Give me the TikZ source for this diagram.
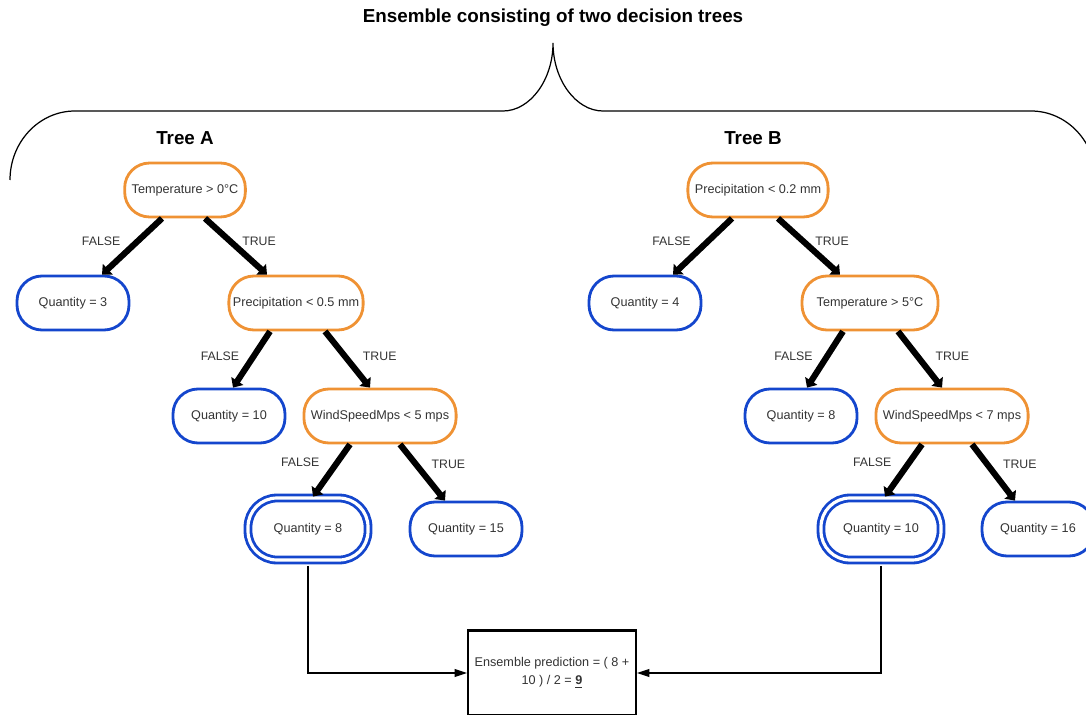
\documentclass[tikz,border=0pt]{standalone}
\usepackage{fontspec}
\setmainfont{Liberation Sans}
\usetikzlibrary{arrows.meta}
\usetikzlibrary{positioning}

\definecolor{splitorange}{RGB}{239,146,52}
\definecolor{leafblue}{RGB}{20,70,205}
\definecolor{txtgray}{RGB}{51,51,51}

\begin{document}
\begin{tikzpicture}[
    every node/.style={text=txtgray, font=\fontsize{7.2}{10}\selectfont},
    split/.style={draw=splitorange, line width=1.6pt, rounded corners=0.5cm, minimum height=1.08cm, inner xsep=0.14cm},
    leaf/.style={draw=leafblue, line width=1.6pt, rounded corners=0.5cm, minimum height=1.08cm, minimum width=2.24cm},
    chosen/.style={leaf, double=white, double distance=1.8pt, minimum width=2.4cm, minimum height=1.24cm, rounded corners=0.58cm},
    branch/.style={line width=3.5pt, -{Triangle[length=4.5pt,width=8pt]}},
    vote/.style={line width=0.6pt, -{Triangle[length=7pt,width=4.5pt]}},
    lbl/.style={font=\fontsize{7}{8}\selectfont},
    heading/.style={text=black, font=\bfseries\fontsize{10.7}{12}\selectfont}]
    \useasboundingbox (0,0) rectangle (21.72,-14.30);

    \node[heading] (title) at (11.06,-0.36) {Ensemble consisting of two decision trees};
    \draw[line width=0.7pt] (0.2,-3.6) .. controls (0.2,-2.84) and (0.78,-2.22) .. (1.5,-2.22) -- (10.06,-2.22)
        .. controls (10.6,-2.22) and (11.06,-1.6) .. (11.06,-0.86)
        .. controls (11.06,-1.6) and (11.52,-2.22) .. (12.06,-2.22) -- (20.62,-2.22)
        .. controls (21.34,-2.22) and (21.92,-2.84) .. (21.92,-3.6);
    \node[heading] (treeA) at (3.70,-2.76) {Tree A};
    \node[heading] (treeB) at (15.06,-2.76) {Tree B};

    \node[split] (ta) at (3.70,-3.80) {Temperature > 0°C};
    \node[leaf] (qa3) at (1.46,-6.06) {Quantity = 3};
    \node[split, minimum width=2.68cm, inner xsep=0.08cm] (pa) at (5.92,-6.06) {Precipitation < 0.5 mm};
    \node[leaf] (qa10) at (4.58,-8.32) {Quantity = 10};
    \node[split] (wa) at (7.60,-8.32) {WindSpeedMps < 5 mps};
    \node[chosen] (qa8) at (6.16,-10.58) {Quantity = 8};
    \node[leaf] (qa15) at (9.32,-10.58) {Quantity = 15};

    \node[split] (tb) at (15.16,-3.80) {Precipitation < 0.2 mm};
    \node[leaf] (qb4) at (12.90,-6.06) {Quantity = 4};
    \node[split, minimum width=2.72cm] (pb) at (17.40,-6.06) {Temperature > 5°C};
    \node[leaf] (qb8) at (16.02,-8.32) {Quantity = 8};
    \node[split] (wb) at (19.04,-8.32) {WindSpeedMps < 7 mps};
    \node[chosen] (qb10) at (17.62,-10.58) {Quantity = 10};
    \node[leaf] (qb16) at (20.76,-10.58) {Quantity = 16};

    \node[draw=black, line width=1.2pt, minimum width=3.36cm, minimum height=1.7cm, align=center] (ens) at (11.04,-13.46)
        {Ensemble prediction = ( 8 +\\ 10 ) / 2 = \underline{\textbf{9}}};

    \draw[branch] ([xshift=-0.46cm]ta.south) -- node[lbl, pos=.4, left=5pt] {FALSE} ([xshift=0.58cm]qa3.north);
    \draw[branch] ([xshift=0.40cm]ta.south) -- node[lbl, pos=.4, right=2pt] {TRUE} ([xshift=-0.58cm]pa.north);
    \draw[branch] ([xshift=-0.52cm]pa.south) -- node[lbl, pos=.45, left=3pt] {FALSE} ([xshift=0.08cm]qa10.north);
    \draw[branch] ([xshift=0.58cm]pa.south) -- node[lbl, pos=.45, right=5pt] {TRUE} ([xshift=-0.20cm]wa.north);
    \draw[branch] ([xshift=-0.60cm]wa.south) -- node[lbl, pos=.35, left=5pt] {FALSE} ([xshift=0.10cm]qa8.north);
    \draw[branch] ([xshift=0.40cm]wa.south) -- node[lbl, pos=.35, right=4pt] {TRUE} ([xshift=-0.42cm]qa15.north);

    \draw[branch] ([xshift=-0.52cm]tb.south) -- node[lbl, pos=.4, left=5pt] {FALSE} ([xshift=0.56cm]qb4.north);
    \draw[branch] ([xshift=0.40cm]tb.south) -- node[lbl, pos=.4, right=2pt] {TRUE} ([xshift=-0.60cm]pb.north);
    \draw[branch] ([xshift=-0.54cm]pb.south) -- node[lbl, pos=.45, left=3pt] {FALSE} ([xshift=0.12cm]qb8.north);
    \draw[branch] ([xshift=0.56cm]pb.south) -- node[lbl, pos=.45, right=5pt] {TRUE} ([xshift=-0.20cm]wb.north);
    \draw[branch] ([xshift=-0.60cm]wb.south) -- node[lbl, pos=.35, left=5pt] {FALSE} ([xshift=0.08cm]qb10.north);
    \draw[branch] ([xshift=0.40cm]wb.south) -- node[lbl, pos=.35, right=4pt] {TRUE} ([xshift=-0.46cm]qb16.north);

    \draw[vote] ([yshift=-2.5pt]qa8.south) |- (ens.west);
    \draw[vote] ([yshift=-2.5pt]qb10.south) |- (ens.east);
\end{tikzpicture}
\end{document}
